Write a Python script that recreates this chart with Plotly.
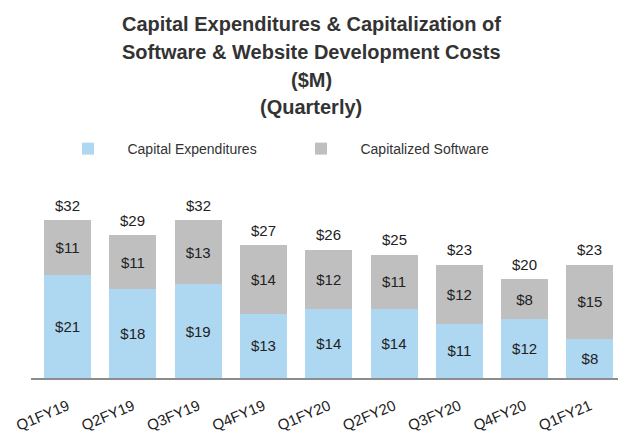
import plotly.graph_objects as go

quarters = ["Q1FY19", "Q2FY19", "Q3FY19", "Q4FY19", "Q1FY20", "Q2FY20", "Q3FY20", "Q4FY20", "Q1FY21"]
capex = [21, 18, 19, 13, 14, 14, 11, 12, 8]
cap_software = [11, 11, 13, 14, 12, 11, 12, 8, 15]
totals = [32, 29, 32, 27, 26, 25, 23, 20, 23]

title_lines = [
    "Capital Expenditures & Capitalization of",
    "Software & Website Development Costs",
    "($M)",
    "(Quarterly)",
]

BLUE = "#AED8F1"
GREY = "#BFBFBF"
TXT = "#222222"
FONT = "Liberation Sans, Arial, sans-serif"
NB = "\u00a0" * 5

L, R, T, B = 31, 0, 180, 56
W, H = 618, 434
ph = H - T - B
pw = W - L - R

def py2paper(py):
    return (H - B - py) / ph

fig = go.Figure()
fig.add_trace(go.Bar(
    x=quarters, y=capex, name=NB + "Capital Expenditures",
    marker=dict(color=BLUE, line=dict(width=0)),
    text=[f"${v}" for v in capex], textposition="inside",
    insidetextanchor="middle", textangle=0,
    textfont=dict(size=15, color=TXT, family=FONT),
))
fig.add_trace(go.Bar(
    x=quarters, y=cap_software, name=NB + "Capitalized Software",
    marker=dict(color=GREY, line=dict(width=0)),
    text=[f"${v}" for v in cap_software], textposition="inside",
    insidetextanchor="middle", textangle=0,
    textfont=dict(size=15, color=TXT, family=FONT),
))

for q, t in zip(quarters, totals):
    fig.add_annotation(
        x=q, y=t, text=f"${t}", showarrow=False, xref="x", yref="y",
        yanchor="middle", yshift=15,
        font=dict(size=15, color=TXT, family=FONT),
    )

title_y = [24, 52, 80, 107]
for line, ty in zip(title_lines, title_y):
    fig.add_annotation(
        text=f"<b>{line}</b>", xref="paper", yref="paper",
        x=(311 - L) / pw, y=py2paper(ty),
        xanchor="center", yanchor="middle", showarrow=False,
        font=dict(size=20, color="#333333", family=FONT),
    )

fig.update_layout(
    width=W, height=H,
    margin=dict(l=L, r=R, t=T, b=B, autoexpand=False),
    barmode="stack", bargap=0.28,
    plot_bgcolor="white", paper_bgcolor="white",
    showlegend=True,
    legend=dict(
        orientation="h", x=(68 - L) / pw, xanchor="left",
        y=py2paper(149), yanchor="middle",
        font=dict(size=14, color="#333333", family=FONT),
        entrywidth=188, itemclick=False,
        traceorder="normal",
    ),
    xaxis=dict(
        range=[-0.56, 8.43], showline=True, linecolor="#8C8C8C", linewidth=1.5,
        ticks="", tickangle=-23, tickfont=dict(size=15, color=TXT, family=FONT),
        showgrid=False, ticklabelstandoff=12, automargin=False,
    ),
    yaxis=dict(range=[0, 40.2], visible=False, showgrid=False),
)

fig.write_html("out.html", config={"displayModeBar": False},
               post_script="document.body.style.margin='0';")
